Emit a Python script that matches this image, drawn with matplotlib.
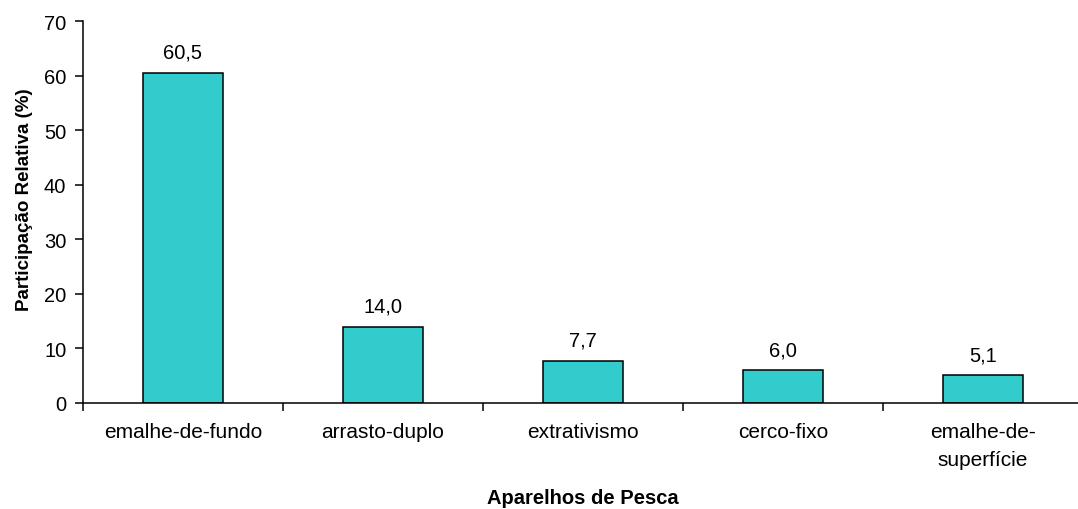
import matplotlib.pyplot as plt

plt.rcParams['font.family'] = ['Liberation Sans', 'DejaVu Sans']

aparelhos = ['emalhe-de-fundo', 'arrasto-duplo', 'extrativismo', 'cerco-fixo', 'emalhe-de-\nsuperfície']
participacao = [60.5, 14.0, 7.7, 6.0, 5.1]

fig = plt.figure(figsize=(10.78, 5.10), dpi=100)
ax = fig.add_axes([83 / 1078, 106 / 510, 1000 / 1078, 382 / 510])

pos = list(range(len(aparelhos)))
bars = ax.bar(pos, participacao, width=0.4, color='#33CCCC', edgecolor='black', linewidth=1.1)

# value labels above each bar, decimal comma
for b, v in zip(bars, participacao):
    ax.annotate(f'{v:.1f}'.replace('.', ','), (b.get_x() + b.get_width() / 2, v),
                xytext=(0, 8), textcoords='offset points', ha='center', va='bottom', fontsize=14.5)

ax.set_xlim(-0.5, len(aparelhos) - 0.5)
ax.set_ylim(0, 70)
ax.set_yticks(range(0, 71, 10))

# category labels centred, tick marks on the boundaries
ax.set_xticks(pos)
ax.set_xticklabels(aparelhos, fontsize=15, linespacing=1.55)
ax.tick_params(axis='x', which='major', length=0, pad=14)
ax.set_xticks([p - 0.5 for p in pos] + [len(pos) - 0.5], minor=True)
ax.tick_params(axis='x', which='minor', length=6, width=1.1)
ax.tick_params(axis='y', labelsize=14.5, length=6, width=1.1, pad=6)

for side in ['top', 'right']:
    ax.spines[side].set_visible(False)
for side in ['left', 'bottom']:
    ax.spines[side].set_linewidth(1.1)

ax.set_ylabel('Participação Relativa (%)', fontsize=13.5, fontweight='bold', labelpad=8)
ax.yaxis.label.set_y(0.535)
ax.set_xlabel('Aparelhos de Pesca', fontsize=14.5, fontweight='bold', labelpad=14)

fig.savefig('out.png', dpi=100)
